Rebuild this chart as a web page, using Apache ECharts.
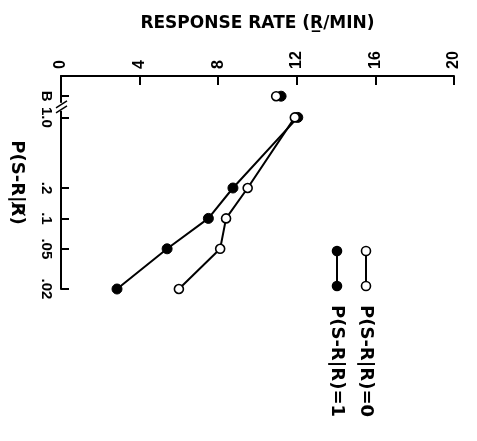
<!DOCTYPE html>
<html><head><meta charset="utf-8">
<script src="https://cdn.jsdelivr.net/npm/echarts@6/dist/echarts.min.js"></script>
<style>html,body{margin:0;padding:0;background:#fff}#c{width:477px;height:441px}</style>
</head><body><div id="c"></div>
<script>
// ---- data ----
const categories = ['B', '1.0', '.2', '.1', '.05', '.02'];
const probs = [null, 1.0, 0.2, 0.1, 0.05, 0.02];       // P(S-R|R-bar); B = baseline
const rateOpen = [10.95, 11.9, 9.5, 8.4, 8.1, 6.0];      // P(S-R|R)=0
const rateFilled = [11.2, 12.05, 8.75, 7.5, 5.4, 2.85];  // P(S-R|R)=1
const xTicks = [0, 4, 8, 12, 16, 20];
const seriesNames = ['P(S-R|R)=0', 'P(S-R|R)=1'];

// ---- layout ----
const B_POS = 0.21;      // baseline placed above 1.0 on the log axis (decades)
const Y_MAX = 0.41;
const Y_MIN = Math.log10(0.02);
const yPos = probs.map(p => p === null ? B_POS : Math.log10(p));
const FONT = '"DejaVu Sans", "Liberation Sans", Arial, sans-serif';
const TFONT = '"Liberation Sans", Arial, sans-serif';

function pts(rates) {
  const out = [];
  for (let i = 0; i < categories.length; i++) if (probs[i] !== null) out.push([rates[i], yPos[i]]);
  return out;
}
function base(rates) {
  const out = [];
  for (let i = 0; i < categories.length; i++) if (probs[i] === null) out.push([rates[i], yPos[i]]);
  return out;
}
function labelFor(v) {
  let best = 0, d = 1e9;
  yPos.forEach((y, i) => { if (Math.abs(y - v) < d) { d = Math.abs(y - v); best = i; } });
  return categories[best];
}

const chart = echarts.init(document.getElementById('c'), null, {renderer: 'canvas'});
const openStyle = {color: '#fff', borderColor: '#000', borderWidth: 1.6, opacity: 1};
const fillStyle = {color: '#000', borderColor: '#000', borderWidth: 1, opacity: 1};
const option = {
  animation: false,
  backgroundColor: '#fff',
  grid: {left: 60, top: 76, right: 23, bottom: 152, containLabel: false},
  xAxis: {
    type: 'value', position: 'top', min: 0, max: 20, interval: 4,
    name: 'RESPONSE RATE (R\u0332/MIN)', nameLocation: 'middle', nameGap: 44, nameMoveOverlap: false,
    nameTextStyle: {fontSize: 17, fontWeight: 'bold', color: '#000', fontFamily: FONT},
    axisLine: {show: true, onZero: false, lineStyle: {color: '#000', width: 2}},
    axisTick: {show: true, inside: true, length: 9, lineStyle: {color: '#000', width: 2}},
    axisLabel: {rotate: -90, margin: 7, fontSize: 16, fontWeight: 'bold', color: '#000', fontFamily: TFONT,
      formatter: v => xTicks.includes(v) ? String(v) : ''},
    splitLine: {show: false}
  },
  yAxis: {
    type: 'value', min: Y_MIN, max: Y_MAX,
    name: 'P(S-R|R\u0338)', nameLocation: 'middle', nameGap: 35, nameRotate: -90, nameMoveOverlap: false,
    nameTextStyle: {fontSize: 18, fontWeight: 'bold', color: '#000', fontFamily: FONT},
    axisLine: {show: true, onZero: false, lineStyle: {color: '#000', width: 2}},
    axisTick: {show: true, inside: true, length: 8, customValues: yPos, lineStyle: {color: '#000', width: 2}},
    axisLabel: {rotate: -90, margin: 7, fontSize: 15, fontWeight: 'bold', color: '#000', fontFamily: TFONT,
      customValues: yPos, formatter: v => labelFor(v)},
    splitLine: {show: false}
  },
  series: [
    {name: seriesNames[1], type: 'line', data: pts(rateFilled), symbol: 'circle', symbolSize: 10,
      itemStyle: fillStyle, lineStyle: {color: '#000', width: 2}, z: 2},
    {name: seriesNames[0], type: 'line', data: pts(rateOpen), symbol: 'circle', symbolSize: 9,
      itemStyle: openStyle, lineStyle: {color: '#000', width: 2}, z: 3},
    {name: seriesNames[1], type: 'scatter', data: base(rateFilled), symbol: 'circle', symbolSize: 10,
      itemStyle: fillStyle, z: 2},
    {name: seriesNames[0], type: 'scatter', data: base(rateOpen), symbol: 'circle', symbolSize: 9,
      itemStyle: openStyle, z: 3}
  ],
  graphic: []
};
chart.setOption(option);

// axis break mark and legend
const brk = chart.convertToPixel({yAxisIndex: 0}, B_POS / 2);
const ax = chart.convertToPixel({xAxisIndex: 0}, 0);
const legend = [];
[[366, seriesNames[0], '#fff'], [337, seriesNames[1], '#000']].forEach(([x, txt, fill]) => {
  legend.push({type: 'line', shape: {x1: x, y1: 251, x2: x, y2: 286}, style: {stroke: '#000', lineWidth: 2}});
  legend.push({type: 'circle', shape: {cx: x, cy: 251, r: 4.5}, style: {fill: fill, stroke: '#000', lineWidth: 1.6}, z: 10});
  legend.push({type: 'circle', shape: {cx: x, cy: 286, r: 4.5}, style: {fill: fill, stroke: '#000', lineWidth: 1.6}, z: 10});
  legend.push({type: 'text', x: x, y: 305, rotation: -Math.PI / 2,
    style: {text: txt, fill: '#000', font: 'bold 18px ' + FONT, textAlign: 'left', textVerticalAlign: 'middle'}});
});
legend.push({type: 'rect', shape: {x: ax - 3, y: brk - 4, width: 8, height: 8}, style: {fill: '#fff'}, z: 20});
legend.push({type: 'line', shape: {x1: ax - 5, y1: brk + 1, x2: ax + 6, y2: brk - 6}, style: {stroke: '#000', lineWidth: 1.5}, z: 21});
legend.push({type: 'line', shape: {x1: ax - 5, y1: brk + 6, x2: ax + 6, y2: brk - 1}, style: {stroke: '#000', lineWidth: 1.5}, z: 21});
chart.setOption({graphic: legend});
</script></body></html>
